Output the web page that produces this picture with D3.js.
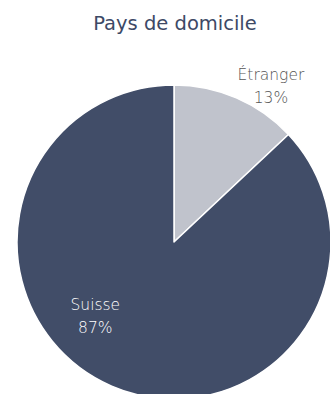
<!DOCTYPE html>
<html>
<head>
<meta charset="utf-8">
<script src="https://cdn.jsdelivr.net/npm/d3@7"></script>
<style>
  html, body { margin: 0; padding: 0; background: #fff; }
  svg { display: block; }
</style>
</head>
<body>
<div id="chart"></div>
<script>
const categories = ["Étranger", "Suisse"];
const values = [13, 87];
const colors = ["#c0c3cc", "#414d68"];

const width = 330, height = 394;
const cx = 174, cy = 242, radius = 157;

const svg = d3.select("#chart")
  .append("svg")
  .attr("width", width)
  .attr("height", height);

svg.append("text")
  .attr("x", 175)
  .attr("y", 30)
  .attr("text-anchor", "middle")
  .attr("font-family", "'DejaVu Sans', sans-serif")
  .attr("font-size", 19.5)
  .attr("fill", "#3d4966")
  .text("Pays de domicile");

const data = categories.map((c, i) => ({ name: c, value: values[i], color: colors[i] }));

const pie = d3.pie().sort(null).value((d) => d.value);
const arcs = pie(data);

const arc = d3.arc().innerRadius(0).outerRadius(radius);

const g = svg.append("g").attr("transform", `translate(${cx},${cy})`);

g.selectAll("path")
  .data(arcs)
  .enter()
  .append("path")
  .attr("d", arc)
  .attr("fill", (d) => d.data.color)
  .attr("stroke", "#fff")
  .attr("stroke-width", 1.5)
  .attr("stroke-linejoin", "round");

// Labels: first slice outside the pie, the big one inside
const labelPos = (d, i) => {
  const mid = (d.startAngle + d.endAngle) / 2;
  const r = i === 0 ? 189 : 104;
  const a = i === 0 ? mid + 0.13 : mid + 0.45;
  return [Math.sin(a) * r, -Math.cos(a) * r];
};

const labels = g.selectAll(".label")
  .data(arcs)
  .enter()
  .append("text")
  .attr("class", "label")
  .attr("transform", (d, i) => `translate(${labelPos(d, i)})`)
  .attr("text-anchor", "middle")
  .attr("font-family", "'DejaVu Sans', sans-serif")
  .attr("font-weight", 200)
  .attr("font-size", 15.5)
  .attr("fill", (d, i) => (i === 0 ? "#555" : "#fff"));

labels.append("tspan")
  .attr("x", 0)
  .text((d) => d.data.name);

labels.append("tspan")
  .attr("x", 0)
  .attr("dy", 23)
  .text((d) => d.data.value + "%");
</script>
</body>
</html>
